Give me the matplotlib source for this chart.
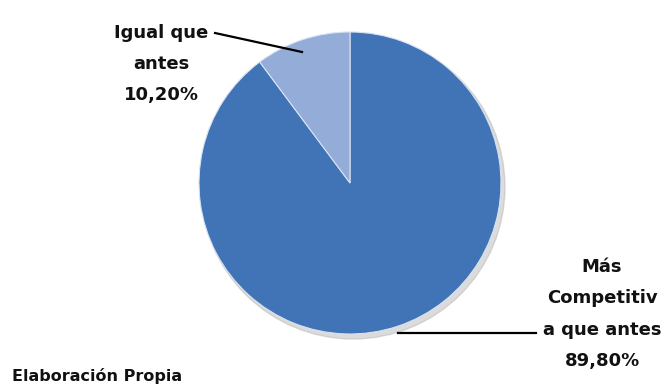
import matplotlib
matplotlib.use("Agg")
import matplotlib.pyplot as plt

categories = ["Más\nCompetitiv\na que antes", "Igual que\nantes"]
values = [89.80, 10.20]
value_labels = ["89,80%", "10,20%"]
colors = ["#4074b6", "#93acd8"]

W, H = 665, 387
fig = plt.figure(figsize=(W / 100, H / 100), dpi=100)
ax = fig.add_axes([0, 0, 1, 1])

cx, cy, r = 350, H - 183, 151
sh = plt.Circle((cx + 3, cy - 4), r + 1, color="#b8b8b8", alpha=0.5, zorder=0)
ax.add_patch(sh)
wedges, _ = ax.pie(values, colors=colors, startangle=90, counterclock=False,
                   center=(cx, cy), radius=r, frame=True,
                   wedgeprops=dict(edgecolor="#d9e2f0", linewidth=0.8))
ax.set_xlim(0, W)
ax.set_ylim(0, H)
ax.set_aspect("equal")
ax.axis("off")

font = dict(family=["DejaVu Sans"], fontweight="bold", fontsize=13, color="#111111")

# small slice label
ax.text(161, H - 64, categories[1] + "\n" + value_labels[1], ha="center", va="center",
        linespacing=1.95, **font)
ax.plot([215, 302], [H - 33, H - 52], color="black", lw=1.6)

# big slice label
ax.text(602, H - 314, categories[0] + "\n" + value_labels[0], ha="center", va="center",
        linespacing=1.95, **font)
ax.plot([398, 536], [H - 333, H - 333], color="black", lw=1.6)

ax.text(12, H - 376, "Elaboración Propia", ha="left", va="center",
        family=["DejaVu Sans"], fontweight="bold", fontsize=11.5, color="#111111")

fig.savefig("out.png", dpi=100)
